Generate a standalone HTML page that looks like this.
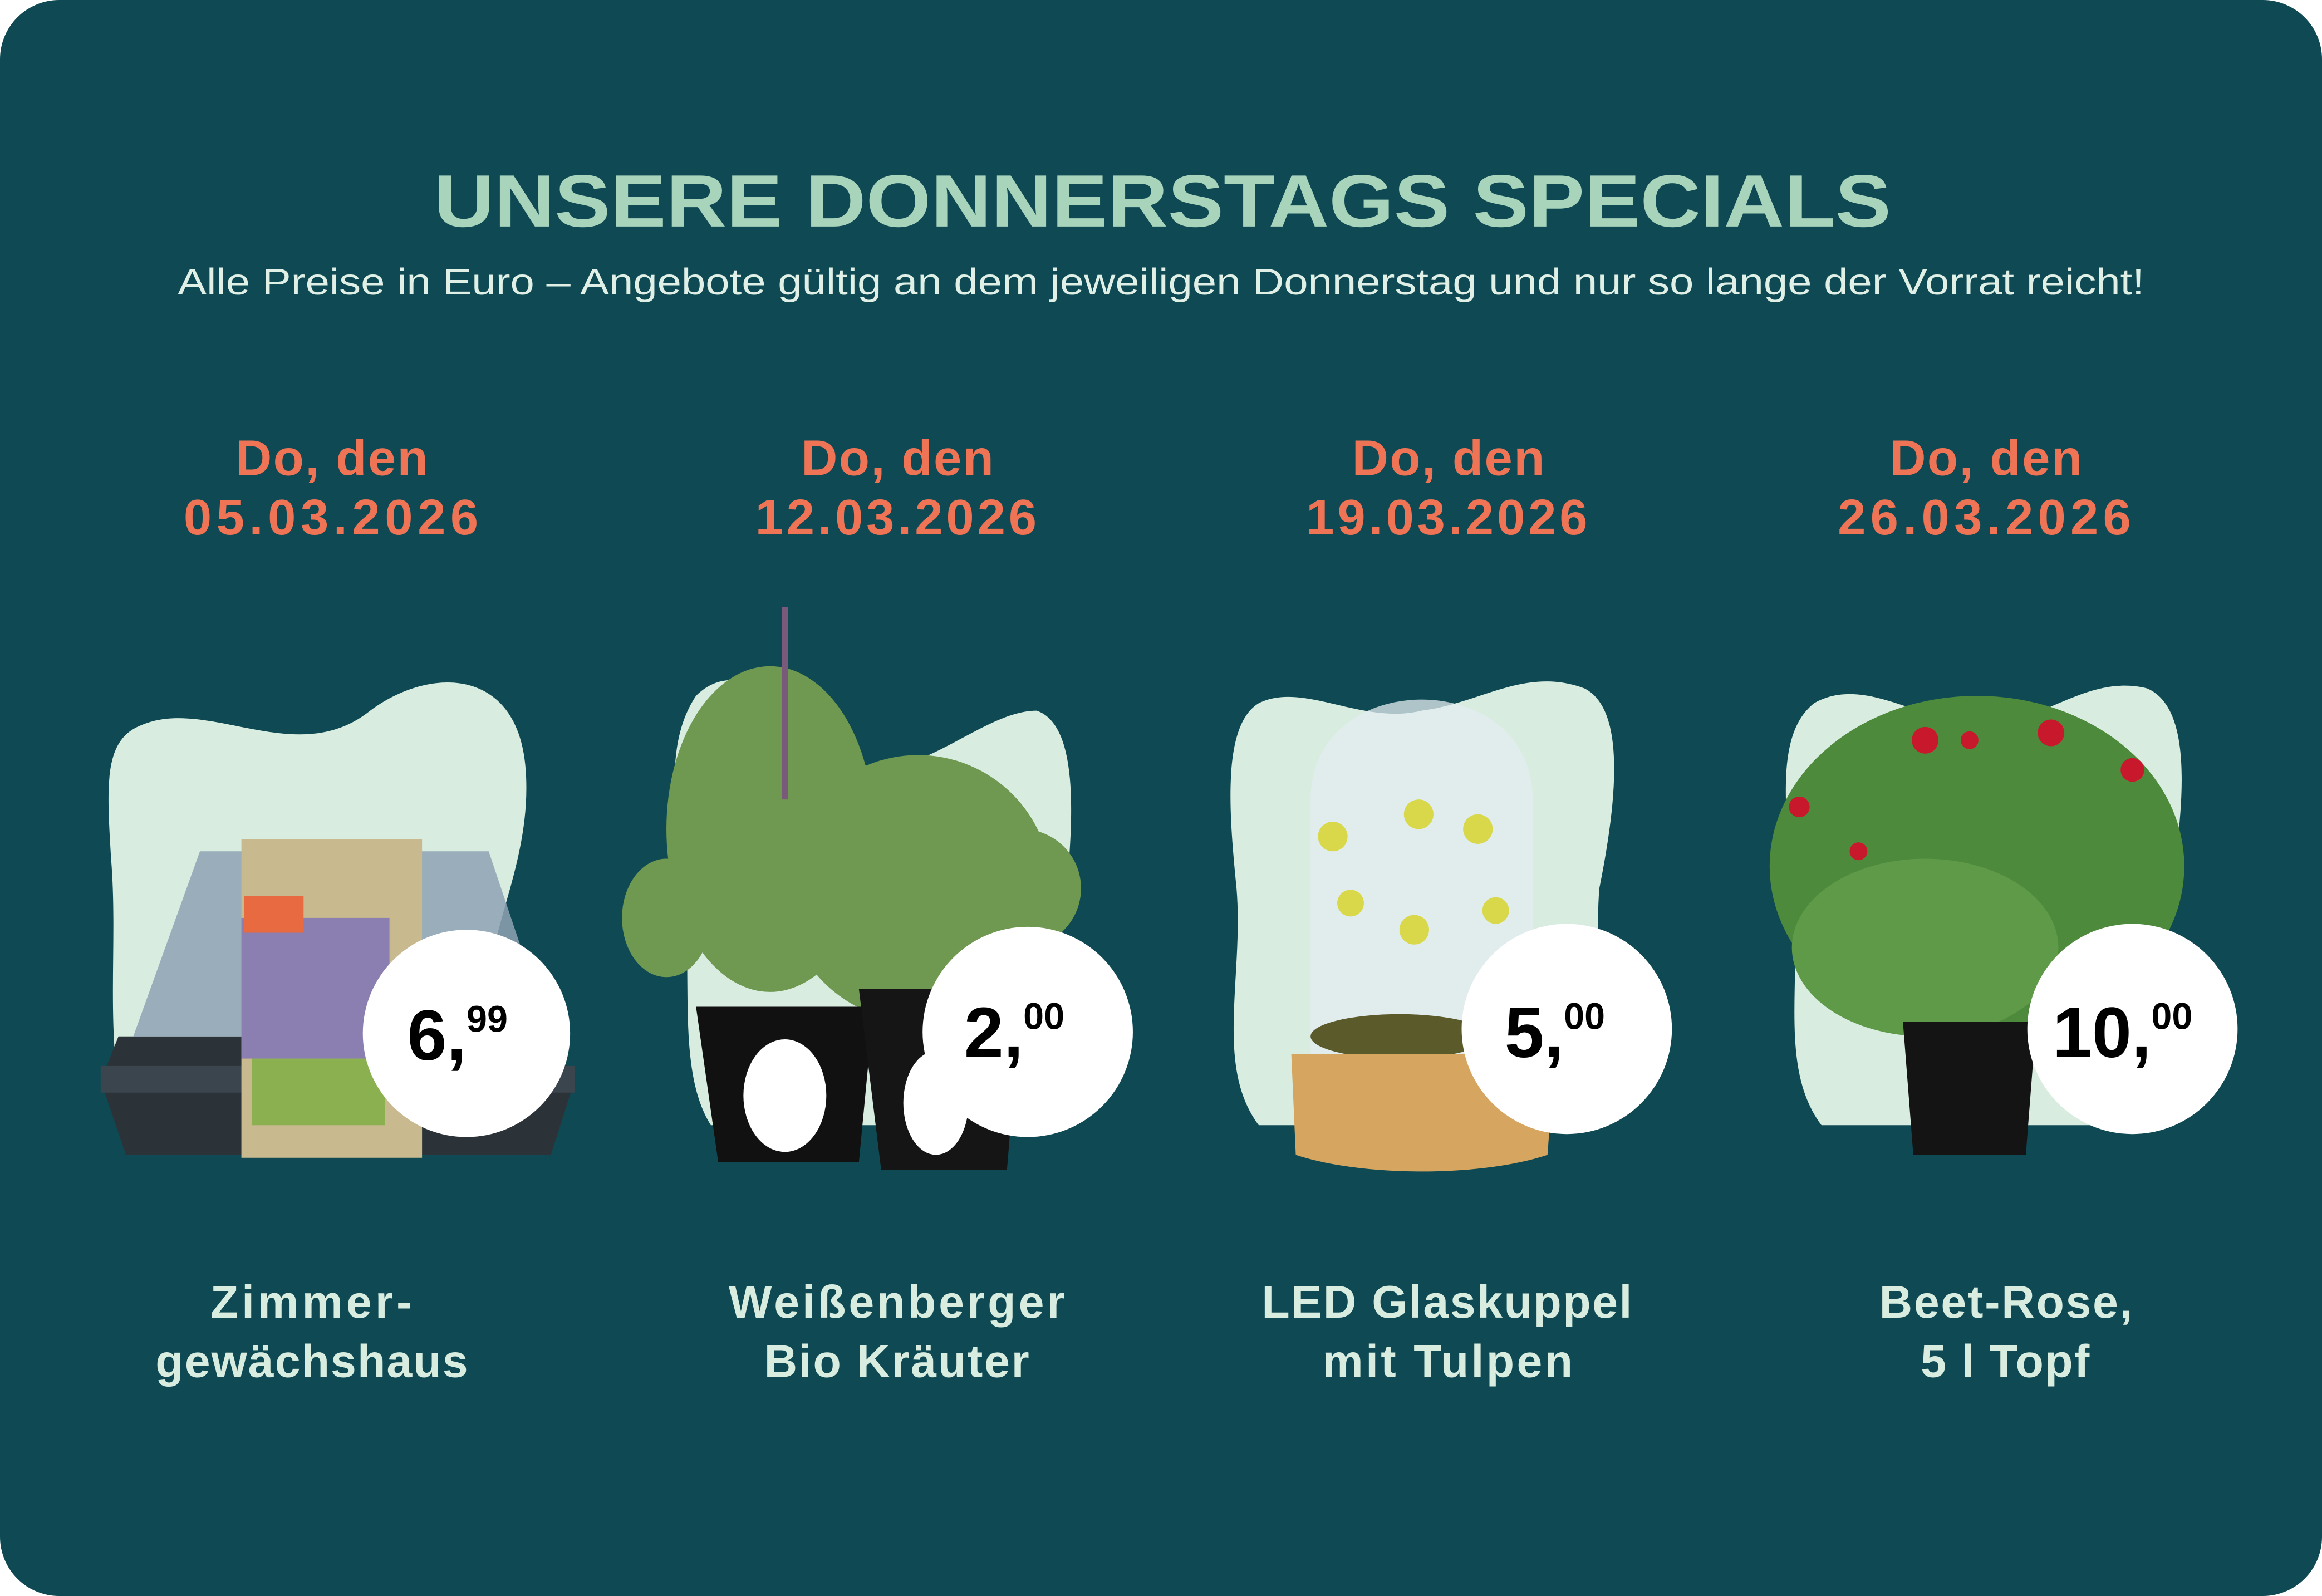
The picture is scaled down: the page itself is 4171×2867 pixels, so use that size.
<!DOCTYPE html>
<html><head><meta charset="utf-8"><style>
html,body{margin:0;padding:0;background:#fff;}
svg{display:block}
text{font-family:"Liberation Sans",sans-serif;}
</style></head><body>
<svg width="4171" height="2867" viewBox="0 0 1568 1078" preserveAspectRatio="none" xmlns="http://www.w3.org/2000/svg">
<rect x="0" y="0" width="1568" height="1078" rx="40" fill="#0f4a54"/>
<text x="293" y="153" font-size="50" font-weight="bold" fill="#a8d4bc" textLength="984" lengthAdjust="spacingAndGlyphs">UNSERE DONNERSTAGS SPECIALS</text>
<text x="120" y="199" font-size="25" fill="#e0f0e6" textLength="1328" lengthAdjust="spacingAndGlyphs">Alle Preise in Euro – Angebote gültig an dem jeweiligen Donnerstag und nur so lange der Vorrat reicht!</text>
<g font-size="34" font-weight="bold" fill="#ee7455" lengthAdjust="spacingAndGlyphs">
<text x="159" y="321" textLength="130">Do, den</text><text x="124" y="361" textLength="199">05.03.2026</text>
<text x="541" y="321" textLength="130">Do, den</text><text x="510" y="361" textLength="190">12.03.2026</text>
<text x="913" y="321" textLength="130">Do, den</text><text x="882" y="361" textLength="190">19.03.2026</text>
<text x="1276" y="321" textLength="130">Do, den</text><text x="1241" y="361" textLength="198">26.03.2026</text>
</g>
<g fill="#d8ece0">
<path d="M95,490 C140,470 200,520 250,480 C290,450 350,450 355,520 C360,590 320,640 330,700 L330,760 L85,760 C70,700 80,640 75,580 C72,530 70,500 95,490Z"/>
<path d="M470,470 C500,440 540,480 570,510 C610,540 660,480 700,480 C730,490 725,560 718,620 C712,690 725,740 690,760 L480,760 C455,720 470,650 460,590 C455,540 450,500 470,470Z"/>
<path d="M850,475 C880,460 920,490 960,480 C1000,475 1030,450 1070,465 C1100,480 1090,550 1080,600 C1075,660 1095,720 1070,760 L850,760 C820,720 840,660 835,600 C830,550 825,490 850,475Z"/>
<path d="M1225,475 C1260,455 1300,490 1340,490 C1380,488 1410,455 1450,465 C1485,480 1472,560 1465,610 C1460,680 1480,730 1450,760 L1230,760 C1200,720 1218,660 1210,600 C1205,540 1200,495 1225,475Z"/>
</g>
<path d="M68,730 L80,700 L372,700 L388,730 L372,780 L85,780Z" fill="#2c3338"/>
<path d="M90,700 L135,575 L330,575 L372,700Z" fill="#8ea2b4" opacity="0.85"/>
<path d="M68,720 L388,720 L388,738 L68,738Z" fill="#3b454d"/>
<rect x="163" y="567" width="122" height="215" fill="#c8b98e"/>
<rect x="163" y="620" width="100" height="95" fill="#8a7fb0"/>
<rect x="165" y="605" width="40" height="25" fill="#e86a40"/>
<rect x="170" y="715" width="90" height="45" fill="#8bb050"/>
<g fill="#6f9850">
<ellipse cx="520" cy="560" rx="70" ry="110"/><ellipse cx="620" cy="600" rx="90" ry="90"/>
<ellipse cx="450" cy="620" rx="30" ry="40"/><ellipse cx="690" cy="600" rx="40" ry="40"/>
</g>
<path d="M530,410 L530,540" stroke="#7a5a7a" stroke-width="4"/>
<path d="M470,680 L590,680 L580,785 L485,785Z" fill="#111"/>
<path d="M580,668 L690,668 L680,790 L595,790Z" fill="#151515"/>
<ellipse cx="530" cy="740" rx="28" ry="38" fill="#fff"/>
<ellipse cx="632" cy="745" rx="22" ry="35" fill="#fff"/>
<path d="M885,715 L885,540 C885,450 1035,450 1035,540 L1035,715Z" fill="#e4eef0" opacity="0.75"/>
<g fill="#d8d84a"><circle cx="900" cy="565" r="10"/><circle cx="958" cy="550" r="10"/><circle cx="998" cy="560" r="10"/><circle cx="912" cy="610" r="9"/><circle cx="955" cy="628" r="10"/><circle cx="1010" cy="615" r="9"/></g>
<ellipse cx="945" cy="700" rx="60" ry="15" fill="#5b5a2a"/>
<path d="M872,712 L1050,712 L1045,780 C1000,795 920,795 875,780Z" fill="#d6a560"/>
<ellipse cx="1335" cy="585" rx="140" ry="115" fill="#4e8a3c"/>
<ellipse cx="1300" cy="640" rx="90" ry="60" fill="#5e9a48"/>
<g fill="#c8182c"><circle cx="1300" cy="500" r="9"/><circle cx="1385" cy="495" r="9"/><circle cx="1440" cy="520" r="8"/><circle cx="1215" cy="545" r="7"/><circle cx="1255" cy="575" r="6"/><circle cx="1330" cy="500" r="6"/></g>
<path d="M1285,690 L1375,690 L1368,780 L1292,780Z" fill="#141414"/>
<g fill="#fff"><circle cx="315" cy="698" r="70"/><circle cx="694" cy="697" r="71"/><circle cx="1058" cy="695" r="71"/><circle cx="1440" cy="695" r="71"/></g>
<g font-weight="bold" fill="#000">
<text x="275" y="716" font-size="48">6,<tspan font-size="25" dy="-19">99</tspan></text>
<text x="651" y="714" font-size="48">2,<tspan font-size="25" dy="-19">00</tspan></text>
<text x="1016" y="714" font-size="48">5,<tspan font-size="25" dy="-19">00</tspan></text>
<text x="1386" y="714" font-size="48">10,<tspan font-size="25" dy="-19">00</tspan></text>
</g>
<g font-size="31" font-weight="bold" fill="#d8ecdf" lengthAdjust="spacingAndGlyphs">
<text x="142" y="890" textLength="136">Zimmer-</text><text x="105" y="930" textLength="211">gewächshaus</text>
<text x="492" y="890" textLength="227">Weißenberger</text><text x="516" y="930" textLength="179">Bio Kräuter</text>
<text x="852" y="890" textLength="250">LED Glaskuppel</text><text x="893" y="930" textLength="169">mit Tulpen</text>
<text x="1269" y="890" textLength="171">Beet-Rose,</text><text x="1297" y="930" textLength="114">5 l Topf</text>
</g>
</svg>
</body></html>
